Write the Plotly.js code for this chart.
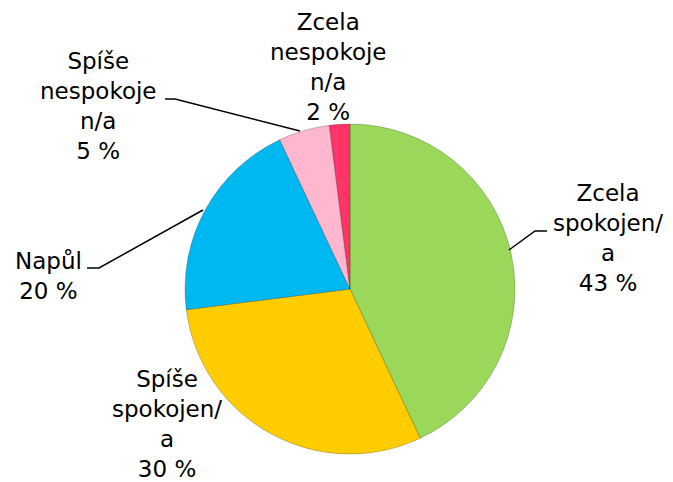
<!DOCTYPE html>
<html>
<head>
<meta charset="utf-8">
<script src="https://cdn.plot.ly/plotly-3.0.1.min.js"></script>
<style>html,body{margin:0;padding:0;background:#fff;}#chart{width:673px;height:482px;}</style>
</head>
<body>
<div id="chart"></div>
<script>
var categories = ["Zcela spokojen/a", "Spíše spokojen/a", "Napůl", "Spíše nespokojen/a", "Zcela nespokojen/a"];
var labelTexts = ["Zcela<br>spokojen/<br>a<br>43 %", "Spíše<br>spokojen/<br>a<br>30 %", "Napůl<br>20 %", "Spíše<br>nespokoje<br>n/a<br>5 %", "Zcela<br>nespokoje<br>n/a<br>2 %"];
var values = [43, 30, 20, 5, 2];
var colors = ["#9BD85A", "#FFCC00", "#00B8F0", "#FFB6CF", "#FF3366"];

var W = 673, H = 482;
function px(x){ return x / W; }
function py(y){ return 1 - y / H; }

// pie placement: centre (350,289), radius 165 px
var cx = 350, cy = 289, r = 165;

var trace = {
  type: "pie",
  labels: categories,
  values: values,
  sort: false,
  direction: "clockwise",
  rotation: 0,
  textinfo: "none",
  hoverinfo: "label+percent",
  marker: { colors: colors, line: { color: "rgba(0,0,0,0.22)", width: 1 } },
  domain: { x: [px(cx - r), px(cx + r)], y: [py(cy + r), py(cy - r)] },
  showlegend: false
};

var labelPos = [[608, 238], [167, 424], [48, 276], [98, 106], [328, 67]];
var annotations = labelTexts.map(function(t, i){
  return {
    xref: "paper", yref: "paper",
    x: px(labelPos[i][0]), y: py(labelPos[i][1]),
    xanchor: "center", yanchor: "middle",
    text: t, showarrow: false, align: "center",
    font: { family: "DejaVu Sans, Verdana, sans-serif", size: 23, color: "#000" }
  };
});

var leaders = [
  [[547, 231], [535, 231], [509, 250]],
  [[87, 268], [99, 268], [203, 210]],
  [[165, 99], [175, 99], [300, 131]]
];
var shapes = leaders.map(function(p){
  var d = "M" + px(p[0][0]) + "," + py(p[0][1]) +
          " L" + px(p[1][0]) + "," + py(p[1][1]) +
          " L" + px(p[2][0]) + "," + py(p[2][1]);
  return { type: "path", xref: "paper", yref: "paper", path: d, line: { color: "#000", width: 1.5 } };
});

var layout = {
  width: W, height: H,
  margin: { l: 0, r: 0, t: 0, b: 0 },
  paper_bgcolor: "#fff",
  annotations: annotations,
  shapes: shapes
};

Plotly.newPlot("chart", [trace], layout, { displayModeBar: false, staticPlot: true });
</script>
</body>
</html>
